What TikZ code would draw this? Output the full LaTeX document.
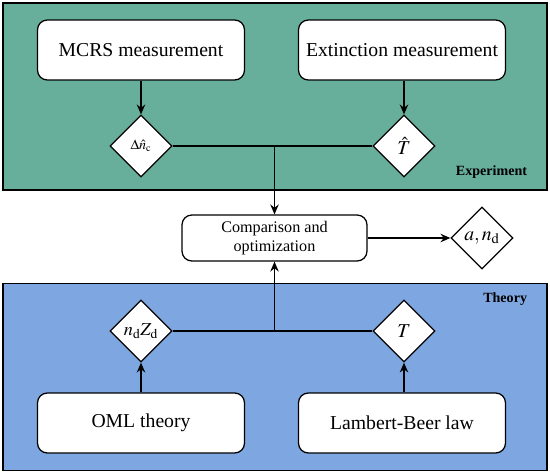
\documentclass[tikz,border=0pt]{standalone}
\usepackage{amsmath}
\usepackage{mathptmx}
\usepackage[no-math]{fontspec}
\setmainfont{Liberation Serif}
\usetikzlibrary{positioning, arrows.meta, shapes.geometric, calc}
\definecolor{expgreen}{RGB}{103,174,155}
\definecolor{theoblue}{RGB}{126,167,225}
\tikzset{
  panel/.style={draw, line width=1pt, minimum width=544*0.025cm, minimum height=187*0.025cm, inner sep=0pt},
  stepbox/.style={draw, fill=white, rounded corners=7pt, line width=0.9pt, minimum width=207*0.025cm, minimum height=60*0.025cm, font=\fontsize{14}{16}\selectfont},
  decision/.style={draw, fill=white, diamond, aspect=1, inner sep=0pt, line width=0.9pt, minimum size=62*0.025cm},
  arrow/.style={-{Stealth[length=7pt, width=6pt]}, line width=0.9pt},
  joinline/.style={line width=0.9pt},
  tag/.style={font=\fontsize{10}{12}\selectfont\bfseries}
}
\begin{document}
\begin{tikzpicture}[x=0.025cm, y=-0.025cm]
\useasboundingbox (0,0) rectangle (550,474);
% panels
\node[panel, fill=expgreen] (exppanel) at (275,96.5) {};
\node[panel, fill=theoblue] (theopanel) at (275,377) {};
\node[tag, anchor=base east] (exptag) at (532,175) {Experiment};
\node[tag, anchor=base east] (theotag) at (532,302) {Theory};

% experiment
\node[stepbox] (mcrs) at (141,50) {MCRS measurement};
\node[stepbox] (ext) at (402,50) {Extinction measurement};
\node[decision, font=\fontsize{10}{12}\selectfont] (dn) at (141,146) {$\Delta\hat{n}_\mathrm{c}$};
\node[decision, font=\fontsize{14}{16}\selectfont] (that) at (404,146) {$\hat{T}$};

% comparison
\node[stepbox, minimum width=185*0.025cm, minimum height=46*0.025cm, font=\fontsize{11.5}{14}\selectfont, align=center] (cmp) at (274.5,238) {Comparison and\\optimization};
\node[decision, font=\fontsize{14}{16}\selectfont] (out) at (482,238) {$a, n_\mathrm{d}$};

% theory
\node[decision, font=\fontsize{13}{15}\selectfont] (nz) at (141,331) {$n_\mathrm{d}Z_\mathrm{d}$};
\node[decision, font=\fontsize{14}{16}\selectfont] (tt) at (404,331) {$T$};
\node[stepbox] (oml) at (141,423) {OML theory};
\node[stepbox] (lb) at (402,423) {Lambert-Beer law};

\coordinate (jtop) at (cmp.north |- dn.east);
\coordinate (jbot) at (cmp.south |- nz.east);

\draw[arrow] (mcrs.south -| dn.north) -- (dn.north);
\draw[arrow] (ext.south -| that.north) -- (that.north);
\draw[joinline] (dn.east) -- (that.west);
\draw[arrow] (jtop) -- (cmp.north);
\draw[arrow] (cmp.east) -- (out.west);
\draw[joinline] (nz.east) -- (tt.west);
\draw[arrow] (jbot) -- (cmp.south);
\draw[arrow] (oml.north -| nz.south) -- (nz.south);
\draw[arrow] (lb.north -| tt.south) -- (tt.south);
\end{tikzpicture}
\end{document}
